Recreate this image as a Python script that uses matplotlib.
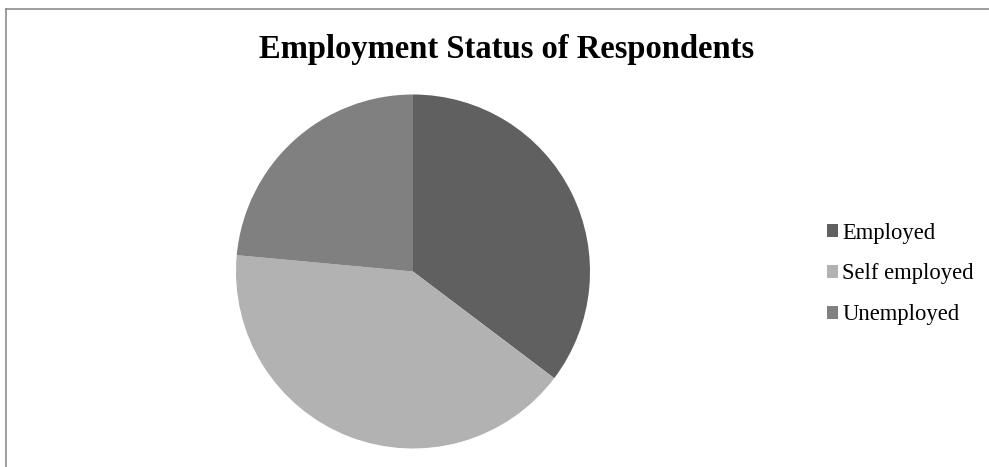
import matplotlib
matplotlib.use("Agg")
import matplotlib.pyplot as plt
from matplotlib.lines import Line2D

categories = ["Employed", "Self employed", "Unemployed"]
values = [12, 14, 8]
colors = ["#606060", "#b2b2b2", "#808080"]
title = "Employment Status of Respondents"

W, H = 989, 467
fig = plt.figure(figsize=(W / 100, H / 100), dpi=100)
fig.patch.set_facecolor("white")

cx, cy, r = 413, 271.5, 177
ax = fig.add_axes([(cx - r) / W, (H - cy - r) / H, 2 * r / W, 2 * r / H])
wedges, _ = ax.pie(values, colors=colors, startangle=90, counterclock=False,
                   radius=1, wedgeprops=dict(linewidth=0))
ax.set_xlim(-1, 1)
ax.set_ylim(-1, 1)
ax.set_aspect("equal")
ax.axis("off")

fig.text(507 / W, 1 - 58 / H, title, ha="center", va="baseline",
         fontsize=23.5, fontweight="bold", family="Liberation Serif")

leg = fig.legend(wedges, categories, loc="center left",
                 bbox_to_anchor=(827 / W, 1 - 274 / H), frameon=False,
                 prop=dict(family="Liberation Serif", size=16.3),
                 handlelength=0.5, handleheight=0.5, handletextpad=0.18,
                 labelspacing=0.88, borderpad=0, borderaxespad=0)

# chart frame (left and top edges visible)
fig.add_artist(Line2D([5.5 / W, 5.5 / W], [0, 1 - 9 / H], color="#8c8c8c", lw=1.2))
fig.add_artist(Line2D([5.5 / W, 1], [1 - 9 / H, 1 - 9 / H], color="#8c8c8c", lw=1.2))

fig.savefig("out.png", dpi=100, facecolor="white")
